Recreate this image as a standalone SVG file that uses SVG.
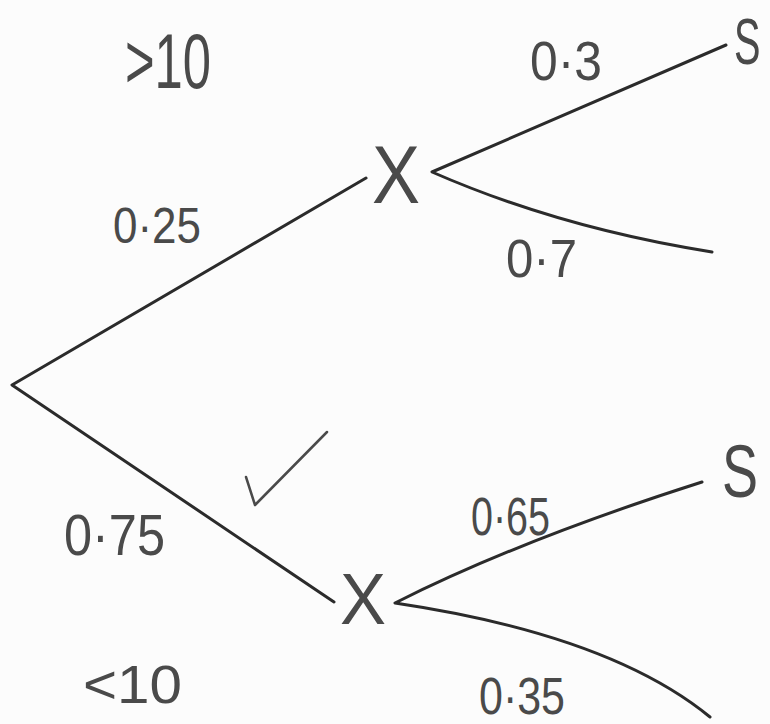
<svg xmlns="http://www.w3.org/2000/svg" width="770" height="724" viewBox="0 0 770 724">
<style>
.bg{fill:#fcfcfc}
.ln{fill:none;stroke:#2b2b2b;stroke-width:3;stroke-linecap:round;stroke-linejoin:round}
.t{font-family:"Liberation Sans","DejaVu Sans",sans-serif;fill:#4a4a4a}
.tick{fill:none;stroke:#4a4a4a;stroke-width:2.5;stroke-linecap:round;stroke-linejoin:round}
</style>
<rect class="bg" x="0" y="0" width="770" height="724"/>
<g id="connectors">
<path class="ln" d="M366,178 L12,385 L334,602"/>
<path class="ln" d="M726,45 L432,172 Q560,228 712,252"/>
<path class="ln" d="M702,482 Q520,540 395,603 Q610,635 710,717"/>
</g>
<g id="root-labels">
<text class="t" x="125" y="88" font-size="78" textLength="86" lengthAdjust="spacingAndGlyphs">&gt;10</text>
<text class="t" x="83" y="703" font-size="54" textLength="99" lengthAdjust="spacingAndGlyphs">&lt;10</text>
</g>
<g id="edge-labels">
<text class="t" x="113" y="243" font-size="50" textLength="88" lengthAdjust="spacingAndGlyphs">0·25</text>
<text class="t" x="64" y="555" font-size="58" textLength="101" lengthAdjust="spacingAndGlyphs">0·75</text>
<text class="t" x="530" y="80" font-size="55" textLength="72" lengthAdjust="spacingAndGlyphs">0·3</text>
<text class="t" x="506" y="277" font-size="54" textLength="71" lengthAdjust="spacingAndGlyphs">0·7</text>
<text class="t" x="471" y="535" font-size="53" textLength="79" lengthAdjust="spacingAndGlyphs">0·65</text>
<text class="t" x="479" y="714" font-size="52" textLength="86" lengthAdjust="spacingAndGlyphs">0·35</text>
</g>
<g id="node-x-upper">
<text class="t" x="372" y="203" font-size="82" textLength="48" lengthAdjust="spacingAndGlyphs">X</text>
</g>
<g id="node-x-lower">
<text class="t" x="340" y="624" font-size="72" textLength="46" lengthAdjust="spacingAndGlyphs">X</text>
</g>
<g id="node-s-upper">
<text class="t" transform="translate(734,64) scale(0.62,1)" font-size="64">S</text>
</g>
<g id="node-s-lower">
<text class="t" x="722" y="497" font-size="74" textLength="36" lengthAdjust="spacingAndGlyphs">S</text>
</g>
<g id="tick">
<path class="tick" d="M246,477 L255,505 L327,432"/>
</g>
</svg>
